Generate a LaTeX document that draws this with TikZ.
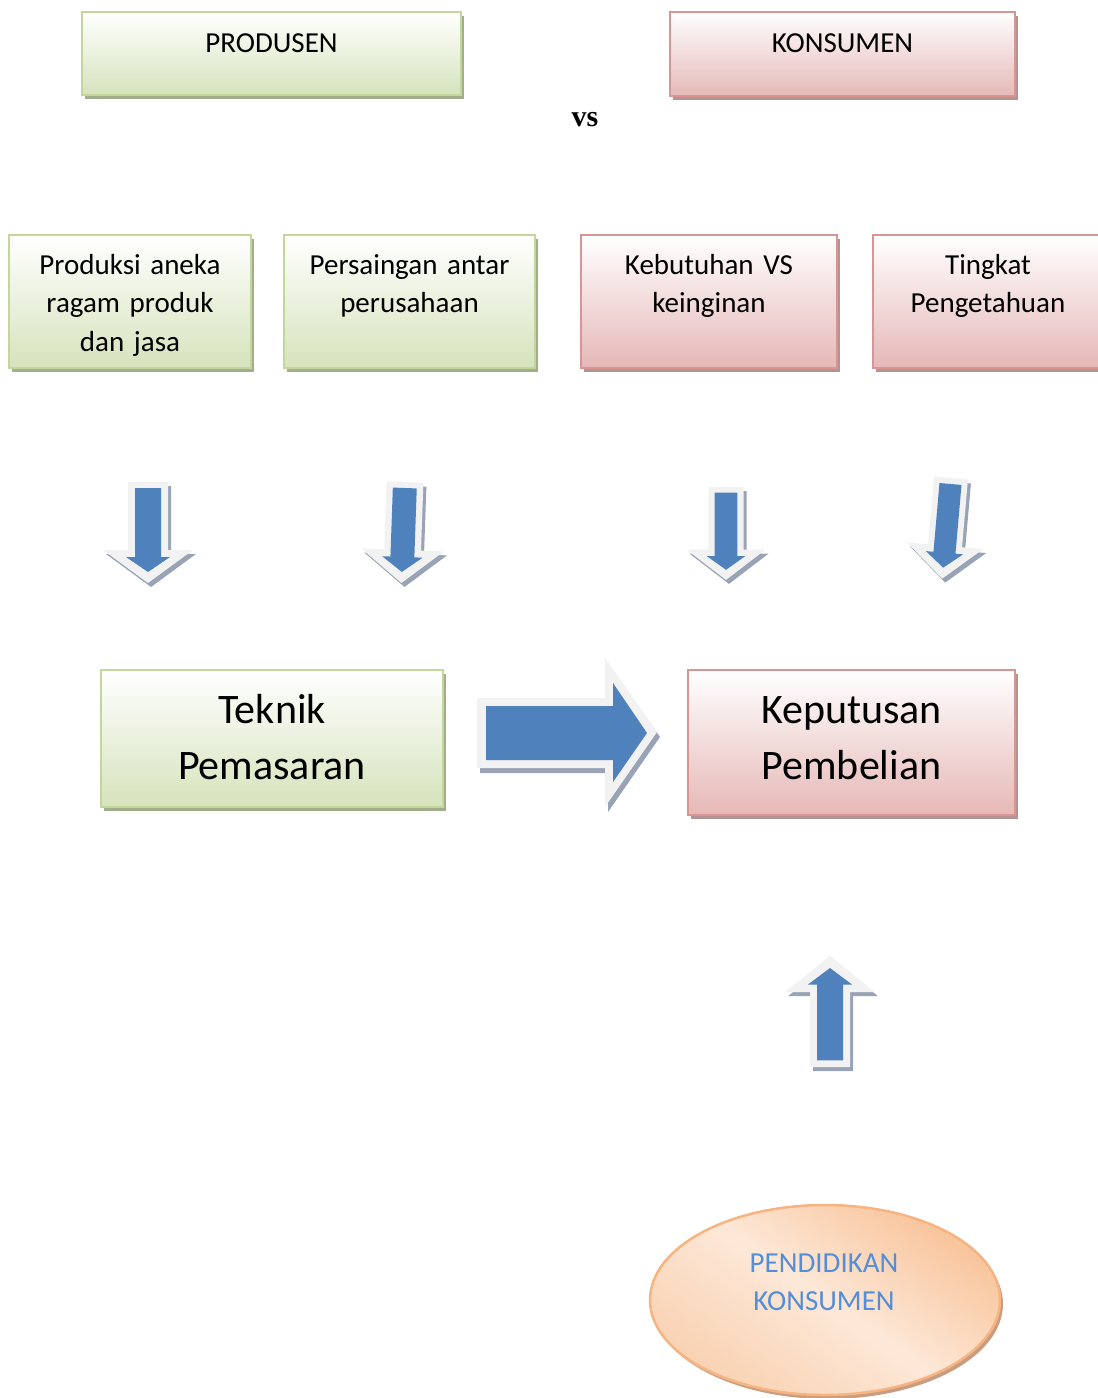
\documentclass[tikz,border=0pt]{standalone}
\usepackage{fontspec}
\setmainfont{Carlito}
\newfontfamily\vsfont{Liberation Serif}
\usetikzlibrary{shapes.geometric,shadows}
\definecolor{gbot}{HTML}{D6E3BC}
\definecolor{gborder}{HTML}{C3D69B}
\definecolor{gshadow}{HTML}{A0AE8A}
\definecolor{rbot}{HTML}{E5B8B7}
\definecolor{rborder}{HTML}{D99594}
\definecolor{rshadow}{HTML}{B59393}
\definecolor{ablue}{HTML}{4F81BD}
\definecolor{alight}{HTML}{F2F2F2}
\definecolor{ashadow}{HTML}{98A4B5}
\definecolor{otop}{HTML}{F8C49A}
\definecolor{omid}{HTML}{FDE8D8}
\definecolor{obot}{HTML}{F9D2B2}
\definecolor{oborder}{HTML}{F6B483}
\definecolor{oshadow}{HTML}{C99E80}
\definecolor{etext}{HTML}{558ED5}

% down block arrow: cx, ytop, xscale, yscale, angle
\newcommand\blockdown[5]{%
  \begin{scope}[shift={(#1+3,#2+4)},rotate=#5,xscale=#3,yscale=#4]
    \fill[ashadow] (-20,0) -- (20,0) -- (20,68) -- (45,68) -- (0,101) -- (-45,68) -- (-20,68) -- cycle;
  \end{scope}
  \begin{scope}[shift={(#1,#2)},rotate=#5,xscale=#3,yscale=#4]
    \fill[alight] (-20,0) -- (20,0) -- (20,68) -- (45,68) -- (0,101) -- (-45,68) -- (-20,68) -- cycle;
    \fill[ablue] (-13,6) -- (13,6) -- (13,75) -- (22,75) -- (0,90) -- (-22,75) -- (-13,75) -- cycle;
  \end{scope}}

\begin{document}
\begin{tikzpicture}[x=1pt,y=-1pt,
  gbox/.style={draw=gborder, line width=2.5pt, top color=white, bottom color=gbot, inner sep=0pt,
    drop shadow={shadow xshift=3pt, shadow yshift=-4pt, fill=gshadow, opacity=1}},
  rbox/.style={draw=rborder, line width=2.5pt, top color=white, bottom color=rbot, inner sep=0pt,
    drop shadow={shadow xshift=3pt, shadow yshift=-4pt, fill=rshadow, opacity=1}},
  txt/.style={inner sep=0pt, align=center, text width=300pt, anchor=base,
    font=\fontsize{29}{38.8}\selectfont},
  bigtxt/.style={inner sep=0pt, align=center, text width=320pt, anchor=base,
    font=\fontsize{42}{56}\selectfont},
]
\useasboundingbox (0,0) rectangle (1098,1398);
\clip (0,0) rectangle (1098,1398);

% top boxes
\node[gbox, minimum width=379pt, minimum height=83pt] (produsen) at (271.5,53.5) {};
\node[txt] (produsenT) at (271.5,52) {PRODUSEN};
\node[rbox, minimum width=345pt, minimum height=84pt] (konsumen) at (842.5,54) {};
\node[txt] (konsumenT) at (842.5,52) {KONSUMEN};
\node[inner sep=0pt, anchor=base, font=\vsfont\bfseries\fontsize{30}{32}\selectfont] (vs) at (585,126.5) {vs};

% factor boxes
\node[gbox, minimum width=242pt, minimum height=133pt] (produksi) at (130,301.5) {};
\node[txt] (produksiT) at (130,274) {Produksi aneka\\ragam produk\\dan jasa};
\node[gbox, minimum width=251pt, minimum height=133pt] (persaingan) at (409.5,301.5) {};
\node[txt] (persainganT) at (409.5,274) {Persaingan antar\\perusahaan};
\node[rbox, minimum width=256pt, minimum height=133pt] (kebutuhan) at (709,301.5) {};
\node[txt] (kebutuhanT) at (709,274) {Kebutuhan VS\\keinginan};
\node[rbox, minimum width=237pt, minimum height=133pt] (tingkat) at (991.5,301.5) {};
\node[txt] (tingkatT) at (988,274) {Tingkat\\Pengetahuan};

% down arrows
\blockdown{148}{482}{1}{1}{0}
\blockdown{405}{482}{0.92}{1}{-2}
\blockdown{726}{487}{0.88}{0.92}{0}
\blockdown{951}{478}{0.85}{1}{-5}

% main boxes
\node[gbox, minimum width=342pt, minimum height=137pt] (teknik) at (272,738.5) {};
\node[bigtxt] (teknikT) at (272,723.5) {Teknik\\Pemasaran};
\node[rbox, minimum width=327pt, minimum height=145pt] (keputusan) at (851.5,742.5) {};
\node[bigtxt] (keputusanT) at (851.5,723.5) {Keputusan\\Pembelian};

% right block arrow
\fill[ashadow] (480,703) -- (608,703) -- (608,663) -- (660,737) -- (608,812) -- (608,773) -- (480,773) -- cycle;
\fill[alight] (477,698) -- (605,698) -- (605,658) -- (657,732) -- (605,807) -- (605,768) -- (477,768) -- cycle;
\fill[ablue] (486,706) -- (613,706) -- (613,683) -- (647,733) -- (613,782) -- (613,760) -- (486,760) -- cycle;

% up block arrow
\blockdown{830}{1067}{1}{-1.1}{0}

% ellipse
\node[ellipse, draw=oborder, line width=2.5pt, minimum width=350pt, minimum height=190pt,
  top color=otop, bottom color=obot, middle color=omid, shading angle=-35, inner sep=0pt,
  drop shadow={shadow xshift=3pt, shadow yshift=-4pt, fill=oshadow, opacity=1}] (pendidikan) at (825,1300) {};
\node[txt, text=etext] (pendidikanT) at (824,1272) {PENDIDIKAN\\KONSUMEN};
\end{tikzpicture}
\end{document}
